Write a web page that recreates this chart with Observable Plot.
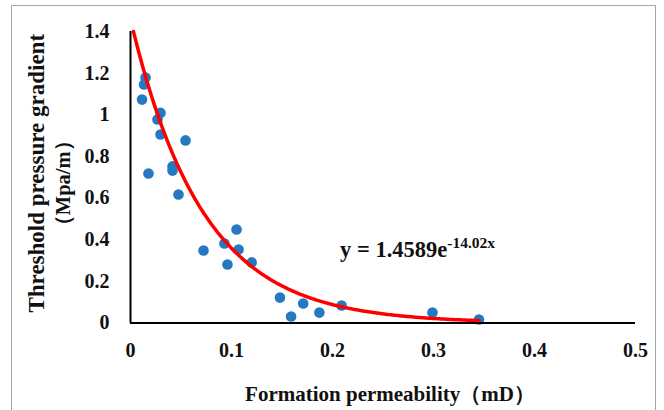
<!DOCTYPE html>
<html>
<head>
<meta charset="utf-8">
<script src="https://cdn.jsdelivr.net/npm/d3@7"></script>
<script src="https://cdn.jsdelivr.net/npm/@observablehq/plot@0.6"></script>
<style>
  html, body { margin: 0; padding: 0; background: #fff; }
  #wrap { position: relative; width: 664px; height: 410px; overflow: hidden; }
  #border { position: absolute; left: 11px; top: 5px; width: 645px; height: 420px; border: 1.5px solid #a6a6a6; box-sizing: border-box; pointer-events: none; }
  #chart { position: absolute; left: 0; top: 0; }
</style>
</head>
<body>
<div id="wrap"><div id="border"></div><div id="chart"></div></div>
<script>
// Measured data points: formation permeability (mD) and threshold pressure gradient (MPa/m)
const permeability = [0.0149, 0.0134, 0.0114, 0.0297, 0.0267, 0.0297, 0.0545, 0.0178, 0.0416, 0.0416, 0.0475,
  0.105, 0.0723, 0.093, 0.107, 0.096, 0.120, 0.148, 0.159, 0.171, 0.187, 0.209, 0.299, 0.345];
const gradient = [1.179, 1.146, 1.073, 1.009, 0.977, 0.905, 0.877, 0.718, 0.752, 0.732, 0.617,
  0.449, 0.348, 0.382, 0.353, 0.281, 0.291, 0.122, 0.031, 0.094, 0.050, 0.084, 0.050, 0.017];

// Exponential fit shown on the chart: y = 1.4589 e^(-14.02x)
const fitA = 1.4589;
const fitB = 14.02;
const fitXEnd = 0.345;

const xTicks = [0, 0.1, 0.2, 0.3, 0.4, 0.5];
const xTickLabels = ["0", "0.1", "0.2", "0.3", "0.4", "0.5"];
const yTicks = [0, 0.2, 0.4, 0.6, 0.8, 1, 1.2, 1.4];
const yTickLabels = ["0", "0.2", "0.4", "0.6", "0.8", "1", "1.2", "1.4"];

const xTitle = "Formation permeability（mD）";
const yTitle1 = "Threshold pressure gradient";
const yTitle2 = "（Mpa/m）";

const points = permeability.map((x, i) => ({x, y: gradient[i]}));
const yMax = yTicks[yTicks.length - 1];
const fitXStart = Math.log(fitA / yMax) / fitB;
const fitLine = d3.range(0, 201).map(i => {
  const x = fitXStart + (fitXEnd - fitXStart) * i / 200;
  return {x, y: fitA * Math.exp(-fitB * x)};
});

const serif = "'Liberation Serif', 'Times New Roman', serif";

const chart = Plot.plot({
  width: 664,
  height: 410,
  marginLeft: 130,
  marginRight: 29,
  marginTop: 31,
  marginBottom: 87.5,
  style: {fontFamily: serif, fontWeight: "bold", fontSize: "20px", color: "#111", background: "transparent"},
  x: {domain: [0, 0.5], ticks: xTicks, tickFormat: (d) => xTickLabels[xTicks.indexOf(d)], tickSize: 0, tickPadding: 20, label: null},
  y: {domain: [0, yMax], ticks: yTicks, tickFormat: (d) => yTickLabels[yTicks.indexOf(d)], tickSize: 0, tickPadding: 21, label: null},
  marks: [
    Plot.dot(points, {x: "x", y: "y", r: 5.3, fill: "#2479c1", stroke: "none"}),
    Plot.line(fitLine, {x: "x", y: "y", stroke: "#ff0000", strokeWidth: 3.5}),
    Plot.ruleX([0], {stroke: "#000", strokeWidth: 2}),
    Plot.ruleY([0], {stroke: "#000", strokeWidth: 2}),
    Plot.text([xTitle], {frameAnchor: "bottom", text: d => d, textAnchor: "middle", dy: 78, dx: 7, fontSize: 21, fontWeight: "bold", fill: "#111"}),
    Plot.text([yTitle1], {frameAnchor: "left", text: d => d, textAnchor: "middle", rotate: -90, dx: -94, dy: -4, fontSize: 23, fontWeight: "bold", fill: "#111"}),
    Plot.text([yTitle2], {frameAnchor: "left", text: d => d, textAnchor: "middle", rotate: -90, dx: -67, dy: 6, fontSize: 20.5, fontWeight: "bold", fill: "#111"})
  ]
});

// Equation annotation (text with superscript), placed in data coordinates
const svg = d3.select(chart);
const eqX = chart.scale("x").apply(0.208);
const eqY = chart.scale("y").apply(0.315);
const eq = svg.append("text")
  .attr("x", eqX).attr("y", eqY)
  .attr("text-anchor", "start")
  .attr("font-family", serif).attr("font-weight", "bold").attr("font-size", 22.5).attr("fill", "#111");
eq.append("tspan").text("y = 1.4589e");
eq.append("tspan").attr("dy", -8.5).attr("font-size", 15.5).text("-14.02x");

document.getElementById("chart").appendChild(chart);
</script>
</body>
</html>
